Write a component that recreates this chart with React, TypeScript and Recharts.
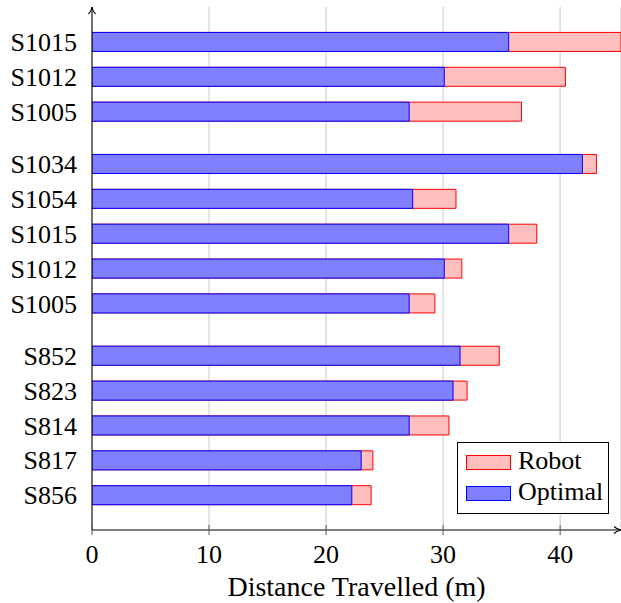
import React from 'react';
import { BarChart, Bar, XAxis, YAxis, CartesianGrid, Legend } from 'recharts';

const labels = ['S1015', 'S1012', 'S1005', 'S1034', 'S1054', 'S1015', 'S1012', 'S1005', 'S852', 'S823', 'S814', 'S817', 'S856'];
const groupSizes = [3, 5, 5];
const optimal = [35.6, 30.1, 27.1, 41.9, 27.4, 35.6, 30.1, 27.1, 31.45, 30.85, 27.1, 23.0, 22.2];
const robot = [45.2, 40.45, 36.7, 43.1, 31.1, 38.0, 31.6, 29.3, 34.8, 32.05, 30.5, 24.0, 23.85];
const xTicks = [0, 10, 20, 30, 40];

const positions: number[] = [];
{
  let p = 0;
  groupSizes.forEach((n) => {
    for (let i = 0; i < n; i++) {
      positions.push(p);
      p += 1;
    }
    p += 0.5;
  });
}

const data = labels.map((label, i) => ({
  pos: positions[i],
  label,
  optimal: optimal[i],
  robot: robot[i],
}));

const FONT = 'Liberation Serif';
const FS = 26;
const LFS = 28;

const XTick = (props: any) => {
  const { x, y, payload } = props;
  return (
    <g>
      <line x1={x} x2={x} y1={y - 5} y2={y + 5} stroke="#555" strokeWidth={1} />
      <text x={x} y={y + 33} textAnchor="middle" fontFamily={FONT} fontSize={FS} fill="#000">
        {payload.value}
      </text>
    </g>
  );
};

const LegendBox = () => (
  <div
    style={{
      position: 'relative',
      width: 152,
      height: 72,
      boxSizing: 'border-box',
      border: '1px solid #000',
      background: '#fff',
      fontFamily: FONT,
      fontSize: FS,
      lineHeight: '26px',
      color: '#000',
    }}
  >
    <div style={{ position: 'absolute', left: 8, top: 12, width: 45, height: 15, boxSizing: 'border-box', border: '1px solid #ff0000', background: '#ffbfbf' }} />
    <div style={{ position: 'absolute', left: 60, top: 5, whiteSpace: 'nowrap' }}>Robot</div>
    <div style={{ position: 'absolute', left: 8, top: 43, width: 45, height: 15, boxSizing: 'border-box', border: '1px solid #0000ff', background: '#8080ff' }} />
    <div style={{ position: 'absolute', left: 60, top: 36, whiteSpace: 'nowrap' }}>Optimal</div>
  </div>
);

export default function App() {
  return (
    <div style={{ position: 'absolute', left: 0, top: 0 }}>
      <BarChart
        width={621}
        height={603}
        data={data}
        layout="vertical"
        margin={{ top: 7, right: 0, bottom: 0, left: 0 }}
        barSize={19}
        barGap={-19}
        style={{ fontFamily: FONT }}
      >
        <defs>
          <marker
            id="arrowHead"
            viewBox="-1 -5 10 10"
            refX={8}
            refY={0}
            markerWidth={10}
            markerHeight={10}
            markerUnits="userSpaceOnUse"
            orient="auto-start-reverse"
          >
            <path d="M1,-3.5 Q4,-0.6 8,0 M1,3.5 Q4,0.6 8,0" stroke="#000" strokeWidth={1.1} fill="none" />
          </marker>
        </defs>
        <CartesianGrid horizontal={false} stroke="#d6d6d6" strokeWidth={1.3} />
        <XAxis
          type="number"
          dataKey="robot"
          domain={[0, 45.2]}
          ticks={xTicks}
          allowDataOverflow
          height={73}
          tickLine={false}
          tickSize={0}
          tickMargin={0}
          tick={<XTick />}
          axisLine={{ stroke: '#000', strokeWidth: 1, markerEnd: 'url(#arrowHead)' }}
          label={{
            content: (p: any) => {
              const vb = p.viewBox;
              return (
                <text x={vb.x + vb.width / 2} y={vb.y + 66} textAnchor="middle" fontFamily={FONT} fontSize={LFS} fill="#000">
                  Distance Travelled (m)
                </text>
              );
            },
          }}
        />
        <YAxis
          type="number"
          dataKey="pos"
          domain={[-1, 14]}
          allowDataOverflow
          ticks={positions}
          interval={0}
          width={92}
          tickLine={false}
          tickSize={0}
          tickMargin={15}
          tickFormatter={(v: number) => labels[positions.indexOf(v)] ?? ''}
          tick={{ fill: '#000', fontSize: FS, fontFamily: FONT }}
          axisLine={{ stroke: '#000', strokeWidth: 1, markerStart: 'url(#arrowHead)' }}
        />
        <Bar dataKey="robot" fill="#ffbfbf" stroke="#ff0000" strokeWidth={1} isAnimationActive={false} />
        <Bar dataKey="optimal" fill="#8080ff" stroke="#0000ff" strokeWidth={1} isAnimationActive={false} />
        <Legend
          layout="vertical"
          align="center"
          verticalAlign="middle"
          content={() => <LegendBox />}
          wrapperStyle={{ left: 457, top: 442, width: 152, height: 72 }}
        />
      </BarChart>
    </div>
  );
}
